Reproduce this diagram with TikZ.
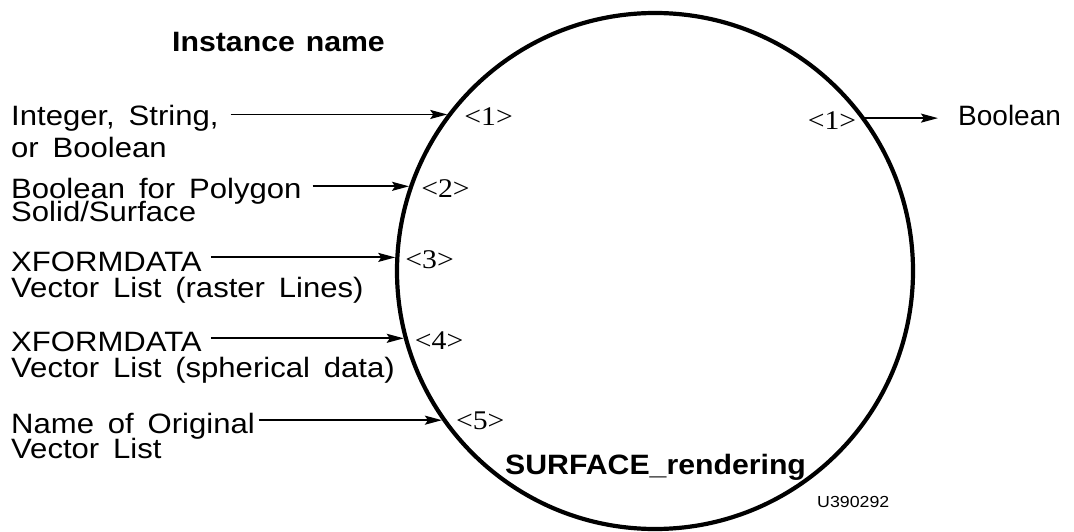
\documentclass[tikz,border=0pt]{standalone}
\usepackage{fontspec}
\setmainfont{Liberation Serif}[FakeStretch=1.1]
\newfontfamily\sansf{Liberation Sans}[FakeStretch=1.11,WordSpace=1.6]
\newfontfamily\sansb{Liberation Sans}[FakeStretch=1.08,WordSpace=1.3]
\newfontfamily\sansplain{Liberation Sans}
\usetikzlibrary{arrows.meta}
\begin{document}
\begin{tikzpicture}[x=1pt,y=-1pt,
  txt/.style={inner sep=0pt, anchor=base west, font=\sansf\fontsize{28}{32}\selectfont},
  ttl/.style={inner sep=0pt, font=\sansb\bfseries\fontsize{28}{32}\selectfont},
  port/.style={inner sep=0pt, font=\rmfamily\fontsize{27}{32}\selectfont},
  arr/.style={line width=1.8pt, -{Stealth[length=17pt,width=9pt,inset=3pt]}},
  ring/.style={circle, draw, line width=4.2pt, minimum size=516pt, inner sep=0pt}]
\useasboundingbox (0,0) rectangle (1074,532);
\node[ring] (c) at (655,271) {};
% titles
\node[ttl, anchor=base west] (inst) at (172,52) {Instance name};
\node[ttl, anchor=base west] (surf) at (505,474) {SURFACE\_rendering};
\node[inner sep=0pt, anchor=base west, font=\sansf\fontsize{16}{18}\selectfont] (code) at (817,507) {U390292};
% left labels
\node[txt] (t1a) at (11,126) {Integer, String,};
\node[txt] (t1b) at (11,158) {or Boolean};
\node[txt] (t2a) at (11,198) {Boolean for Polygon};
\node[txt] (t2b) at (11,222) {Solid/Surface};
\node[txt] (t3a) at (11,271) {XFORMDATA};
\node[txt] (t3b) at (11,297) {Vector List (raster Lines)};
\node[txt] (t4a) at (11,351) {XFORMDATA};
\node[txt] (t4b) at (11,377) {Vector List (spherical data)};
\node[txt] (t5a) at (11,433) {Name of Original};
\node[txt] (t5b) at (11,458) {Vector List};
% right label
\node[inner sep=0pt, anchor=base west, font=\sansplain\fontsize{28}{32}\selectfont] (rb) at (958,126) {Boolean};
% arrows
\draw[arr, shorten <=12pt] (t1a.east |- c.143.68) -- (c.143.68);
\draw[arr, shorten <=11pt] (t2a.east |- c.161.85) -- (c.161.85);
\draw[arr, shorten <=9pt] (t3a.east |- c.177.58) -- (c.177.58);
\draw[arr, shorten <=9pt] (t4a.east |- c.195.39) -- (c.195.39);
\draw[arr, shorten <=4pt] (t5a.east |- c.215.78) -- (c.215.78);
\draw[arr, shorten >=20pt] (c.36.32) -- (rb.west |- c.36.32);
% port labels
\node[port, anchor=base west] (p1) at ([xshift=17pt,yshift=-11pt]c.143.68) {<1>};
\node[port, anchor=base west] (p2) at ([xshift=12pt,yshift=-11pt]c.161.85) {<2>};
\node[port, anchor=base west] (p3) at ([xshift=10pt,yshift=-11pt]c.177.58) {<3>};
\node[port, anchor=base west] (p4) at ([xshift=11pt,yshift=-11pt]c.195.39) {<4>};
\node[port, anchor=base west] (p5) at ([xshift=14pt,yshift=-9pt]c.215.78) {<5>};
\node[port, anchor=base east] (q1) at ([xshift=-9pt,yshift=-11pt]c.36.32) {<1>};
\end{tikzpicture}
\end{document}
